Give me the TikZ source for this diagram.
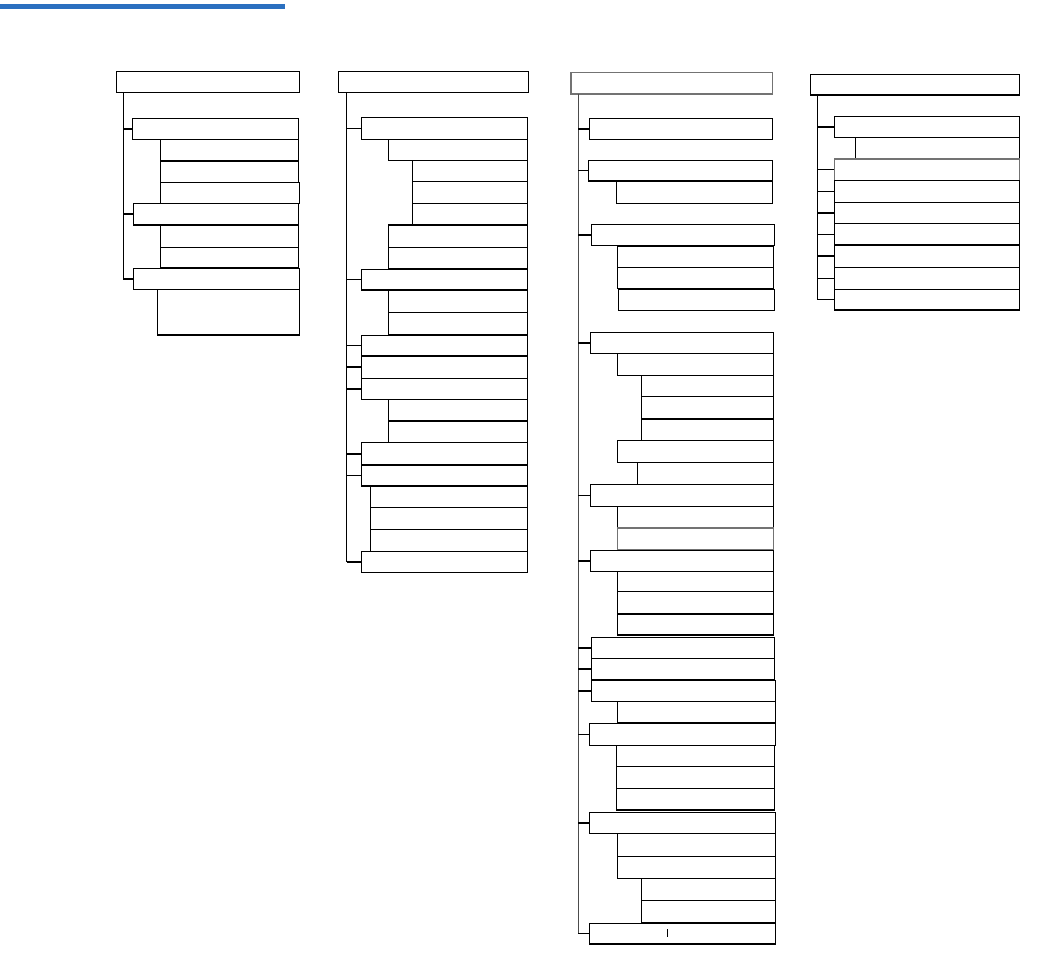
\documentclass[tikz,border=0pt]{standalone}
\usetikzlibrary{calc}
\definecolor{barblue}{RGB}{43,112,192}
\tikzset{
  box/.style={draw=black, line width=1.4pt, inner sep=0pt, outer sep=0pt, anchor=north west, fill=white},
  graybox/.style={draw=black!55},
  conn/.style={draw=black, line width=1.4pt},
}
\newcommand\bx[6][]{\node[box,#1,minimum width={(#5-#3)*1pt},minimum height={(#6-#4)*1pt}] (#2) at (#3,#4) {};}
\begin{document}
\begin{tikzpicture}[x=1pt,y=-1pt]
\useasboundingbox (0,0) rectangle (1058,955);
\fill[barblue] (0,4) rectangle (285,9);

% ---------- Column 1 ----------
\coordinate (T1) at (123.3,92.3);
\bx{r1}{116.3}{71.7}{299.3}{92.3}
\bx{a}{132.3}{118.3}{298.7}{139.7}
\bx{a1}{160.3}{139.7}{298.7}{161}
\bx{a2}{160.3}{161}{298.7}{182.3}
\bx{a3}{160.3}{182.3}{299.3}{203.3}
\bx{b}{133.3}{203.3}{298.7}{225}
\bx{b1}{160.3}{225}{298.7}{247.3}
\bx{b2}{160.3}{247.3}{298.7}{267.3}
\bx{c}{133.3}{268.3}{299.3}{289.3}
\bx{c1}{157.7}{289.3}{299.3}{335}
\draw[conn] (T1) -- (T1 |- c.west);
\foreach \n in {a,b,c} \draw[conn] (T1 |- \n.west) -- (\n.west);

% ---------- Column 2 ----------
\coordinate (T2) at (346.7,92.3);
\bx{r2}{338.3}{71.7}{528.7}{92.3}
\bx{d1}{361.3}{117.7}{527.3}{139.3}
\bx{d11}{388.3}{139.3}{527.3}{160.3}
\bx{d111}{412.3}{160.3}{527.3}{181.7}
\bx{d112}{412.3}{181.7}{527.3}{203.7}
\bx{d113}{412.3}{203.7}{527.3}{224.7}
\bx{d12}{388.3}{225}{527.3}{247.3}
\bx{d13}{388.3}{247.3}{527.3}{268.7}
\bx{d2}{361.3}{269.3}{527.3}{290}
\bx{d21}{388.3}{290}{527.3}{312.7}
\bx{d22}{388.3}{312.7}{527.3}{334.7}
\bx{d3}{361.3}{335.3}{527.3}{356}
\bx{d4}{361.3}{356}{527.3}{378.3}
\bx{d5}{361.3}{378.3}{527.3}{399.3}
\bx{d51}{388.3}{399.3}{527.3}{421}
\bx{d52}{388.3}{421}{527.3}{442.3}
\bx{d6}{361.3}{442.7}{527.3}{465}
\bx{d7}{361.3}{465}{527.3}{486}
\bx{d71}{370.7}{486}{527.3}{507.7}
\bx{d72}{370.7}{507.7}{527.3}{529.7}
\bx{d73}{370.7}{529.7}{527.3}{551.7}
\bx{d8}{361.3}{551.7}{527.3}{572.3}
\draw[conn] (T2) -- (T2 |- d8.west);
\foreach \n in {d1,d2,d3,d4,d5,d6,d7,d8} \draw[conn] (T2 |- \n.west) -- (\n.west);

% ---------- Column 3 ----------
\coordinate (T3) at (578.3,94);
\bx[graybox]{r3}{571}{72.7}{772.7}{94}
\bx{e1}{589.3}{118.7}{772.3}{139.3}
\bx{e2}{588.3}{160.3}{772.3}{181}
\bx{e21}{616.3}{181}{772.3}{203.3}
\bx{e3}{591.3}{224.3}{774.3}{245.3}
\bx{e31}{617.3}{246.3}{773.3}{267.3}
\bx{e32}{617.3}{267.3}{773.3}{288.7}
\bx{e33}{618.3}{289.3}{774.3}{310.3}
\bx{e4}{590.3}{332.7}{773.3}{353.3}
\bx{e41}{617.3}{353.3}{773.3}{375.3}
\bx{e411}{641.3}{375.3}{773.3}{396.7}
\bx{e412}{641.3}{396.7}{773.3}{419}
\bx{e413}{641.3}{419}{773.3}{440.7}
\bx{e42}{617.3}{440.7}{773.3}{462.7}
\bx{e421}{637.3}{462.7}{773.3}{484.3}
\bx{e5}{590.3}{484.3}{773.3}{506.3}
\bx{e51}{617.3}{506.3}{773.3}{528}
\bx[graybox]{e52}{617.3}{528}{773.3}{549.7}
\bx{e6}{590.3}{550.3}{773.3}{571.3}
\bx{e61}{617.3}{571.3}{773.3}{591.7}
\bx{e62}{617.3}{591.7}{773.3}{614}
\bx{e63}{617.3}{614}{773.3}{635}
\bx{e7}{591.3}{637.3}{774.3}{658.3}
\bx{e8}{591.3}{658.3}{774.3}{679.7}
\bx{e9}{591.3}{680.3}{775.3}{701.3}
\bx{e91}{617.3}{701.3}{775.3}{723}
\bx{e10}{589.3}{723.7}{775.3}{745.3}
\bx{e101}{616.3}{745.3}{774.3}{766.3}
\bx{e102}{616.3}{766.3}{774.3}{788.7}
\bx{e103}{616.3}{788.7}{774.3}{810}
\bx{e11}{589.3}{812.3}{775.3}{833.7}
\bx{e111}{617.3}{833.7}{775.3}{856.7}
\bx{e112}{617.3}{856.7}{775.3}{878.7}
\bx{e1121}{641.3}{878.7}{775.3}{900.7}
\bx{e1122}{641.3}{900.7}{775.3}{922.7}
\bx{e12}{589.3}{923.3}{775.3}{944}
\draw[conn,draw=black!70] (T3) -- (T3 |- e12.west);
\foreach \n in {e1,e2,e3,e4,e5,e6,e7,e8,e9,e10,e11,e12} \draw[conn] (T3 |- \n.west) -- (\n.west);
\coordinate (cur) at (667.3,929.3);
\draw[conn] (cur) -- ++(0,7.4);

% ---------- Column 4 ----------
\coordinate (T4) at (817.3,95);
\bx{r4}{810.3}{74.3}{1019.3}{95}
\bx{f1}{834.3}{116.7}{1019.3}{137.7}
\bx{f11}{855.3}{137.7}{1019.3}{159}
\bx[graybox]{f2}{834.3}{159}{1019.3}{180.3}
\bx{f3}{834.3}{180.3}{1019.3}{202.3}
\bx{f4}{834.3}{202.3}{1019.3}{223.7}
\bx{f5}{834.3}{223.7}{1019.3}{245}
\bx{f6}{834.3}{245}{1019.3}{267.3}
\bx{f7}{834.3}{267.3}{1019.3}{289.3}
\bx{f8}{834.3}{289.3}{1019.3}{310}
\draw[conn] (T4) -- (T4 |- f8.west);
\foreach \n in {f1,f2,f3,f4,f5,f6,f7,f8} \draw[conn] (T4 |- \n.west) -- (\n.west);
\end{tikzpicture}
\end{document}
